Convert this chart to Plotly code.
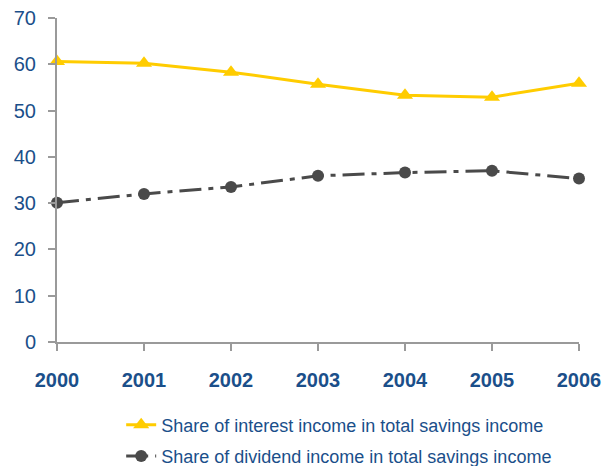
import plotly.graph_objects as go

years = [2000, 2001, 2002, 2003, 2004, 2005, 2006]
interest_share = [60.6, 60.2, 58.3, 55.7, 53.3, 52.9, 55.9]
dividend_share = [30.1, 32.0, 33.5, 35.9, 36.6, 37.0, 35.3]
y_ticks = [0, 10, 20, 30, 40, 50, 60, 70]

text_color = "#1b4f8a"
axis_color = "#9a9a9a"
font_family = "Liberation Sans, Arial, sans-serif"

fig = go.Figure()
fig.add_trace(go.Scatter(
    x=years, y=interest_share, mode="lines+markers",
    name="Share of interest income in total savings income",
    legendgroup="a",
    line=dict(color="#FFCC00", width=3),
    marker=dict(symbol="triangle-up", size=14, color="#FFCC00"),
    cliponaxis=False,
))
fig.add_trace(go.Scatter(
    x=years, y=dividend_share, mode="lines+markers",
    name="Share of dividend income in total savings income",
    legendgroup="b",
    line=dict(color="#4a4a4a", width=3, dash="22px,7px,5px,7px"),
    marker=dict(symbol="circle", size=12, color="#4a4a4a"),
    cliponaxis=False,
))

fig.update_layout(
    width=602, height=458,
    margin=dict(l=49, r=31, t=10, b=124, autoexpand=False),
    paper_bgcolor="white", plot_bgcolor="white",
    font=dict(family=font_family, color=text_color),
    showlegend=True,
    legend=dict(
        orientation="v", x=0.188, xanchor="left", xref="container",
        y=0.13, yanchor="top", yref="container",
        font=dict(size=18, color=text_color, family=font_family),
        tracegroupgap=5,
    ),
    xaxis=dict(
        range=[2000, 2006], tickmode="array", tickvals=years,
        ticktext=[str(y) for y in years],
        showline=True, linecolor=axis_color, linewidth=2,
        ticks="outside", ticklen=7, tickcolor=axis_color, tickwidth=2,
        showgrid=False, zeroline=False, automargin=False,
        tickfont=dict(size=20, color=text_color, family=font_family, weight="bold"),
        ticklabelstandoff=12, ticklabeloverflow="allow",
    ),
    yaxis=dict(
        range=[0, 70], tickmode="array", tickvals=y_ticks,
        showline=True, linecolor=axis_color, linewidth=2,
        ticks="outside", ticklen=7, tickcolor=axis_color, tickwidth=2,
        showgrid=False, zeroline=False, automargin=False,
        tickfont=dict(size=20, color=text_color, family=font_family),
        ticklabelstandoff=8, ticklabeloverflow="allow",
    ),
)

fig.write_html("out.html")
